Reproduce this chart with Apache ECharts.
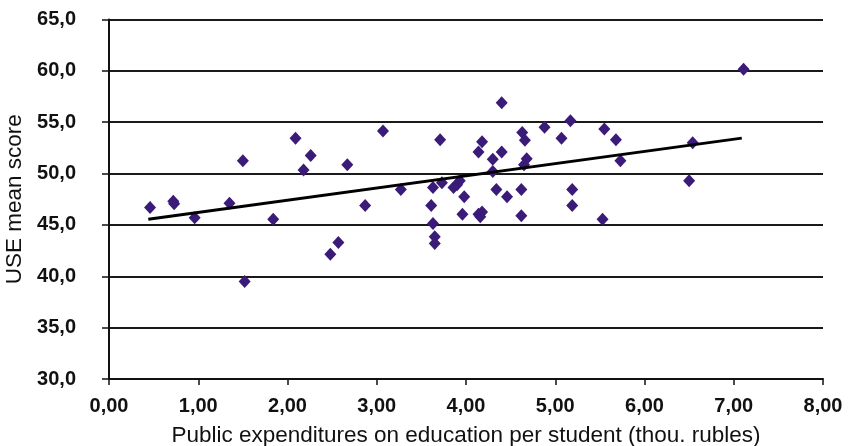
<!DOCTYPE html>
<html>
<head>
<meta charset="utf-8">
<script src="https://cdn.jsdelivr.net/npm/echarts@6/dist/echarts.min.js"></script>
<style>
html,body{margin:0;padding:0;background:#fff;}
#chart{width:849px;height:446px;}
</style>
</head>
<body>
<div id="chart"></div>
<script>
// Public expenditures per student (thou. rubles)
const expenditures = [0.46,0.72,0.73,0.96,1.35,1.50,1.52,1.84,2.09,2.18,2.26,2.48,2.57,2.67,2.87,3.07,3.27,3.61,3.63,3.63,3.65,3.65,3.71,3.73,3.86,3.90,3.93,3.96,3.98,4.14,4.16,4.18,4.14,4.18,4.30,4.30,4.34,4.40,4.40,4.46,4.62,4.62,4.63,4.66,4.68,4.65,4.88,5.07,5.17,5.19,5.19,5.53,5.55,5.68,5.73,6.50,6.54,7.11];
// USE mean score
const scores = [46.7,47.3,47.05,45.7,47.1,51.25,39.5,45.55,53.45,50.35,51.75,42.15,43.3,50.85,46.9,54.15,48.45,46.9,48.65,45.15,43.85,43.2,53.3,49.1,48.65,48.9,49.3,46.05,47.75,46.05,45.8,46.25,52.1,53.1,51.4,50.2,48.45,52.1,56.9,47.75,48.45,45.9,54.0,53.25,51.45,50.85,54.5,53.45,55.15,48.45,46.9,45.55,54.35,53.3,51.25,49.3,53.0,60.15];
// Linear trend line end points
const trendX = [0.44, 7.09];
const trendY = [45.55, 53.45];

const xAxisName = 'Public expenditures on education per student (thou. rubles)';
const yAxisName = 'USE mean score';

const points = expenditures.map((x, i) => [x, scores[i]]);
const trend = trendX.map((x, i) => [x, trendY[i]]);

const labelFont = "'Liberation Sans', Arial, sans-serif";

const chart = echarts.init(document.getElementById('chart'), null, {renderer: 'canvas'});
chart.setOption({
  animation: false,
  backgroundColor: '#ffffff',
  grid: {left: 109, right: 26, top: 19.5, bottom: 67, containLabel: false, outerBoundsMode: 'none'},
  xAxis: {
    type: 'value', min: 0, max: 8, interval: 1,
    name: xAxisName, nameLocation: 'middle', nameGap: 45,
    nameTextStyle: {fontFamily: labelFont, fontSize: 22.5, color: '#111'},
    axisLine: {onZero: false, lineStyle: {color: '#111', width: 2}},
    axisTick: {show: true, inside: false, length: 6, lineStyle: {color: '#111', width: 1.5}},
    axisLabel: {margin: 17, fontFamily: labelFont, fontWeight: 'bold', fontSize: 20, color: '#111',
      formatter: v => v.toFixed(2).replace('.', ',')},
    splitLine: {show: false}
  },
  yAxis: {
    type: 'value', min: 30, max: 65, interval: 5,
    name: yAxisName, nameLocation: 'middle', nameGap: 79, nameRotate: 90,
    nameTextStyle: {fontFamily: labelFont, fontSize: 22.5, color: '#111'},
    axisLine: {show: true, lineStyle: {color: '#111', width: 2}},
    axisTick: {show: true, inside: false, length: 7, lineStyle: {color: '#111', width: 1.5}},
    axisLabel: {margin: 33, fontFamily: labelFont, fontWeight: 'bold', fontSize: 20, color: '#111',
      formatter: v => v.toFixed(1).replace('.', ',')},
    splitLine: {show: true, lineStyle: {color: '#1a1a1a', width: 2}}
  },
  series: [
    {
      type: 'scatter', data: points, symbol: 'diamond', symbolSize: [12, 13],
      itemStyle: {color: '#3b1b78', opacity: 1}, z: 3
    },
    {
      type: 'line', data: trend, showSymbol: false, symbol: 'none',
      lineStyle: {color: '#000', width: 3}, z: 4
    }
  ]
});
</script>
</body>
</html>
